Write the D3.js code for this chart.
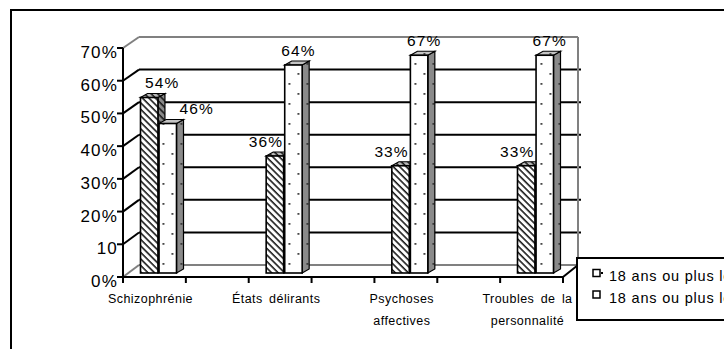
<!DOCTYPE html>
<html lang="fr">
<head>
<meta charset="utf-8">
<script src="https://cdn.jsdelivr.net/npm/d3@7"></script>
<style>
  html, body { margin: 0; padding: 0; background: #fff; }
  svg { display: block; font-family: "Liberation Sans", Arial, sans-serif; }
</style>
</head>
<body>
<script>
// Répartition par catégorie diagnostique (en proportion)
const categories = ["Schizophrénie", "États délirants", "Psychoses affectives", "Troubles de la personnalité"];
const categoryLines = [["Schizophrénie"], ["États délirants"], ["Psychoses", "affectives"], ["Troubles de la", "personnalité"]];
const seriesNames = ["18 ans ou plus lors du premier épisode", "18 ans ou plus lors de l'évaluation"];
const seriesA = [0.54, 0.36, 0.33, 0.33];
const seriesB = [0.46, 0.64, 0.67, 0.67];
const yTickValues = [0, 0.1, 0.2, 0.3, 0.4, 0.5, 0.6, 0.7];
const yTickLabels = ["0%", "10", "20%", "30%", "40%", "50%", "60%", "70%"];

const W = 724, H = 349;
const svg = d3.select("body").append("svg").attr("width", W).attr("height", H);

// Patterns: diagonal hatch and sparse dots
const defs = svg.append("defs");
function hatch(id, bg) {
  const p = defs.append("pattern").attr("id", id).attr("patternUnits", "userSpaceOnUse")
    .attr("width", 4.6).attr("height", 4.6).attr("patternTransform", "rotate(45)");
  p.append("rect").attr("width", 4.6).attr("height", 4.6).attr("fill", bg);
  p.append("rect").attr("width", 4.6).attr("height", 1.6).attr("fill", "#1a1a1a");
}
function dots(id, bg) {
  const p = defs.append("pattern").attr("id", id).attr("patternUnits", "userSpaceOnUse")
    .attr("width", 18).attr("height", 20).attr("x", 0.5).attr("y", 3);
  p.append("rect").attr("width", 18).attr("height", 20).attr("fill", bg);
  p.append("rect").attr("x", 0).attr("y", 0).attr("width", 1.8).attr("height", 1.8).attr("fill", "#333");
  p.append("rect").attr("x", 9).attr("y", 10).attr("width", 1.8).attr("height", 1.8).attr("fill", "#333");
}
hatch("hatchFront", "#fff"); hatch("hatchTop", "#b8b8b8"); hatch("hatchSide", "#8a8a8a");
dots("dotFront", "#fff"); dots("dotTop", "#c4c4c4"); dots("dotSide", "#8a8a8a");

// Outer chart frame
svg.append("rect").attr("x", 11).attr("y", 10).attr("width", 800).attr("height", 400)
  .attr("fill", "#fff").attr("stroke", "#000").attr("stroke-width", 2);

// Scales: front plane, bar plane and back wall
const yFront = d3.scaleLinear().domain([0, 0.7]).range([277, 48]);
const yBar = d3.scaleLinear().domain([0, 0.7]).range([273, 45.5]);
const yBack = d3.scaleLinear().domain([0, 0.7]).range([265, 37]);
const xFront = [123, 563], xBack = [139, 578];
const xTick = d3.scaleLinear().domain([0, 7]).range(xFront);
const xGroup = d3.scalePoint().domain(categories).range([158.5, 535.5]);
const xSeries = d3.scaleBand().domain([0, 1]).range([-18, 18]).paddingInner(0.06);
const depth = { dx: 7, dy: -4 };

const gray = "#808080";
const g = svg.append("g");

// Back wall gridlines
g.selectAll("line.grid").data(yTickValues.filter(v => v > 0 && v < 0.7)).join("line")
  .attr("x1", xBack[0]).attr("x2", xBack[1] + 3)
  .attr("y1", d => yBack(d)).attr("y2", d => yBack(d))
  .attr("stroke", "#000").attr("stroke-width", 2);
// Wall and floor edges
const edges = [
  [xBack[0], yBack(0.7), xBack[1], yBack(0.7)],
  [xBack[1], yBack(0.7), xBack[1], yBack(0)],
  [xFront[0], yFront(0.7), xBack[0], yBack(0.7)],
  [xBack[0], yBack(0), xBack[1], yBack(0)],
  [xFront[0], yFront(0), xBack[0], yBack(0)]
];
g.selectAll("line.edge").data(edges).join("line")
  .attr("x1", d => d[0]).attr("y1", d => d[1]).attr("x2", d => d[2]).attr("y2", d => d[3])
  .attr("stroke", gray).attr("stroke-width", 2);

// Bars
const bars = [];
categories.forEach((c, i) => {
  [seriesA[i], seriesB[i]].forEach((v, s) => {
    bars.push({ cat: c, i, s, v, x: xGroup(c) + xSeries(s), w: xSeries.bandwidth() });
  });
});
const ids = [["hatchFront", "hatchTop", "hatchSide"], ["dotFront", "dotTop", "dotSide"]];
const barG = g.selectAll("g.bar").data(bars).join("g").attr("class", "bar");
barG.each(function (d) {
  const el = d3.select(this);
  const top = yBar(d.v), base = yBar(0), x0 = d.x, x1 = d.x + d.w;
  const { dx, dy } = depth;
  const [fId, tId, sId] = ids[d.s];
  el.append("polygon")
    .attr("points", [[x1, top], [x1 + dx, top + dy], [x1 + dx, base + dy], [x1, base]].join(" "))
    .attr("fill", `url(#${sId})`).attr("stroke", "#000").attr("stroke-width", 1.2);
  el.append("polygon")
    .attr("points", [[x0, top], [x0 + dx, top + dy], [x1 + dx, top + dy], [x1, top]].join(" "))
    .attr("fill", `url(#${tId})`).attr("stroke", "#000").attr("stroke-width", 1.2);
  el.append("rect").attr("x", x0).attr("y", top).attr("width", d.w).attr("height", base - top)
    .attr("fill", `url(#${fId})`).attr("stroke", "#000").attr("stroke-width", 1.6);
});

// Front axes
g.append("line").attr("x1", xFront[0]).attr("x2", xFront[0])
  .attr("y1", yFront(0.7)).attr("y2", yFront(0) + 6).attr("stroke", "#000").attr("stroke-width", 2);
g.append("line").attr("x1", xFront[0]).attr("x2", xFront[1])
  .attr("y1", yFront(0)).attr("y2", yFront(0)).attr("stroke", "#000").attr("stroke-width", 2);
g.append("line").attr("x1", xFront[1]).attr("y1", yFront(0)).attr("x2", xBack[1]).attr("y2", yBack(0))
  .attr("stroke", "#000").attr("stroke-width", 2);
// Value ticks with their diagonal run to the wall
g.selectAll("line.ytick").data(yTickValues).join("line")
  .attr("x1", xFront[0] - 6).attr("x2", xFront[0])
  .attr("y1", d => yFront(d)).attr("y2", d => yFront(d))
  .attr("stroke", "#000").attr("stroke-width", 2);
g.selectAll("line.ydiag").data(yTickValues.filter(v => v > 0 && v < 0.7)).join("line")
  .attr("x1", xFront[0]).attr("y1", d => yFront(d))
  .attr("x2", xBack[0]).attr("y2", d => yBack(d))
  .attr("stroke", "#000").attr("stroke-width", 2);
g.selectAll("text.ylab").data(yTickValues).join("text")
  .attr("x", 118).attr("y", d => yFront(d) + 10)
  .attr("text-anchor", "end").attr("font-size", 17).attr("letter-spacing", 1.2)
  .text((d, i) => yTickLabels[i]);
// Category ticks
g.selectAll("line.xtick").data(d3.range(8)).join("line")
  .attr("x1", d => xTick(d)).attr("x2", d => xTick(d))
  .attr("y1", yFront(0)).attr("y2", yFront(0) + 6)
  .attr("stroke", "#000").attr("stroke-width", 2);
// Category labels
categories.forEach((c, i) => {
  const t = g.append("text").attr("text-anchor", "middle").attr("font-size", 12.5)
    .attr("letter-spacing", 0.45).attr("word-spacing", 2.5);
  categoryLines[i].forEach((line, k) => {
    t.append("tspan").attr("x", xGroup(c) - 8).attr("y", 303 + k * 22).text(line);
  });
});

// Value labels
bars.forEach(d => {
  const pair = bars.filter(b => b.i === d.i);
  const leftTaller = pair[0].v > pair[1].v;
  let x = d.x + d.w / 2 + (d.s === 0 ? -9 : 5), anchor = "middle";
  if (leftTaller) {
    if (d.s === 0) x = d.x + d.w / 2 + 13;
    else { x = d.x + d.w + 3; anchor = "start"; }
  }
  g.append("text").attr("x", x).attr("y", yBack(d.v) - 1)
    .attr("text-anchor", anchor).attr("font-size", 15.5).attr("letter-spacing", 1.1)
    .text(d3.format(".0%")(d.v));
});

// Legend (its right side runs past the frame edge)
const lg = svg.append("g");
lg.append("rect").attr("x", 577).attr("y", 258).attr("width", 200).attr("height", 62)
  .attr("fill", "#fff").attr("stroke", "#000").attr("stroke-width", 2);
seriesNames.forEach((name, k) => {
  lg.append("rect").attr("x", 593).attr("y", 269.5 + k * 21.5).attr("width", 7).attr("height", 7)
    .attr("fill", "#fff").attr("stroke", "#000").attr("stroke-width", 1.5);
  if (k === 0) {
    lg.append("rect").attr("x", 601).attr("y", 272).attr("width", 2).attr("height", 2).attr("fill", "#000");
  }
  lg.append("text").attr("x", 609).attr("y", 281 + k * 22)
    .attr("font-size", 14.5).attr("letter-spacing", 0.8).text(name);
});
</script>
</body>
</html>
